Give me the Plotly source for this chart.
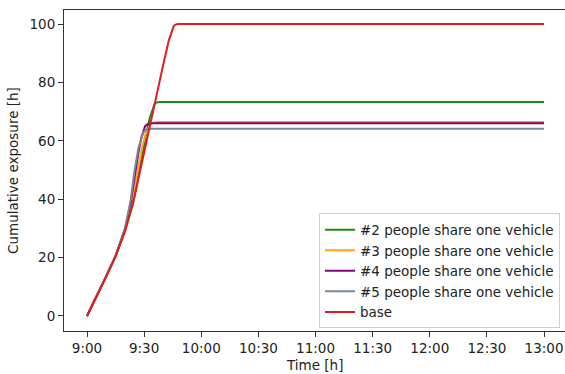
import plotly.graph_objects as go

# minutes after 9:00
t_base = [0, 5, 10, 15, 20, 25, 30, 35, 40, 43, 44.5, 45.5, 46.5, 48, 240]
v_base = [0, 6.5, 13.5, 20.5, 29, 41, 56, 72, 86, 94.5, 97.8, 99.2, 99.8, 100, 100]

t_p2 = [0, 5, 10, 15, 20, 24, 28, 31, 33, 34.5, 35.5, 36.5, 38, 240]
v_p2 = [0, 6.5, 13.5, 20.5, 29.5, 38, 52, 62, 68, 71.3, 72.6, 73.1, 73.3, 73.3]

t_p3 = [0, 5, 10, 15, 20, 23, 26, 29, 31, 32.5, 33.5, 35, 37, 240]
v_p3 = [0, 6.5, 13.5, 20.5, 29.5, 37, 48, 58, 62.8, 65, 65.9, 66.3, 66.4, 66.4]

t_p4 = [0, 5, 10, 15, 20, 23, 25, 27, 28.5, 29.5, 30.5, 32, 34, 240]
v_p4 = [0, 6.5, 13.5, 20.5, 30, 39, 48, 56, 61, 63.5, 65, 65.8, 66, 66]

t_p5 = [0, 5, 10, 15, 20, 23, 25, 27, 28.5, 29.5, 30.5, 32, 34, 240]
v_p5 = [0, 6.5, 13.5, 20.5, 30, 40, 50, 57.5, 61, 62.7, 63.6, 64, 64.1, 64.1]

names = ["#2 people share one vehicle", "#3 people share one vehicle",
         "#4 people share one vehicle", "#5 people share one vehicle", "base"]
colors = ["#1a8a1a", "#ffa51a", "#800080", "#778899", "#e41a1c"]

tick_vals = [0, 30, 60, 90, 120, 150, 180, 210, 240]
tick_text = ["9:00", "9:30", "10:00", "10:30", "11:00", "11:30", "12:00", "12:30", "13:00"]

fig = go.Figure()
for (tx, vy), name, c in zip([(t_p2, v_p2), (t_p3, v_p3), (t_p4, v_p4), (t_p5, v_p5), (t_base, v_base)], names, colors):
    fig.add_trace(go.Scatter(x=tx, y=vy, mode="lines", name=name,
                             line=dict(color=c, width=2)))

font = dict(family="DejaVu Sans", size=13.5, color="#222")
fig.update_layout(
    width=565, height=374,
    margin=dict(l=64, r=0, t=10, b=43),
    paper_bgcolor="white", plot_bgcolor="white",
    font=font,
    showlegend=True,
    legend=dict(x=0.99, y=0.008, xanchor="right", yanchor="bottom",
                bgcolor="rgba(255,255,255,0.8)", bordercolor="#d0d0d0", borderwidth=1,
                font=font, tracegroupgap=0),
    annotations=[
        dict(text="Time [h]", xref="paper", yref="paper", x=0.5, y=-0.075,
             xanchor="center", yanchor="top", showarrow=False, font=font),
        dict(text="Cumulative exposure [h]", xref="paper", yref="paper", x=-0.103,
             y=0.5, xanchor="center", yanchor="middle", textangle=-90,
             showarrow=False, font=font),
    ],
)
fig.update_xaxes(range=[-12.08, 251.0], tickvals=tick_vals, ticktext=tick_text,
                 showgrid=False, zeroline=False, showline=True, linecolor="#333", linewidth=1,
                 mirror=True, ticks="outside", ticklen=5, tickcolor="#333", automargin=False)
fig.update_yaxes(range=[-5.14, 104.8], tickvals=[0, 20, 40, 60, 80, 100],
                 showgrid=False, zeroline=False, showline=True, linecolor="#333", linewidth=1,
                 ticks="outside", ticklen=5, tickcolor="#333", automargin=False)

fig.write_html("out.html", config={"displayModeBar": False},
               post_script="document.body.style.margin='0';document.body.style.padding='0';")
